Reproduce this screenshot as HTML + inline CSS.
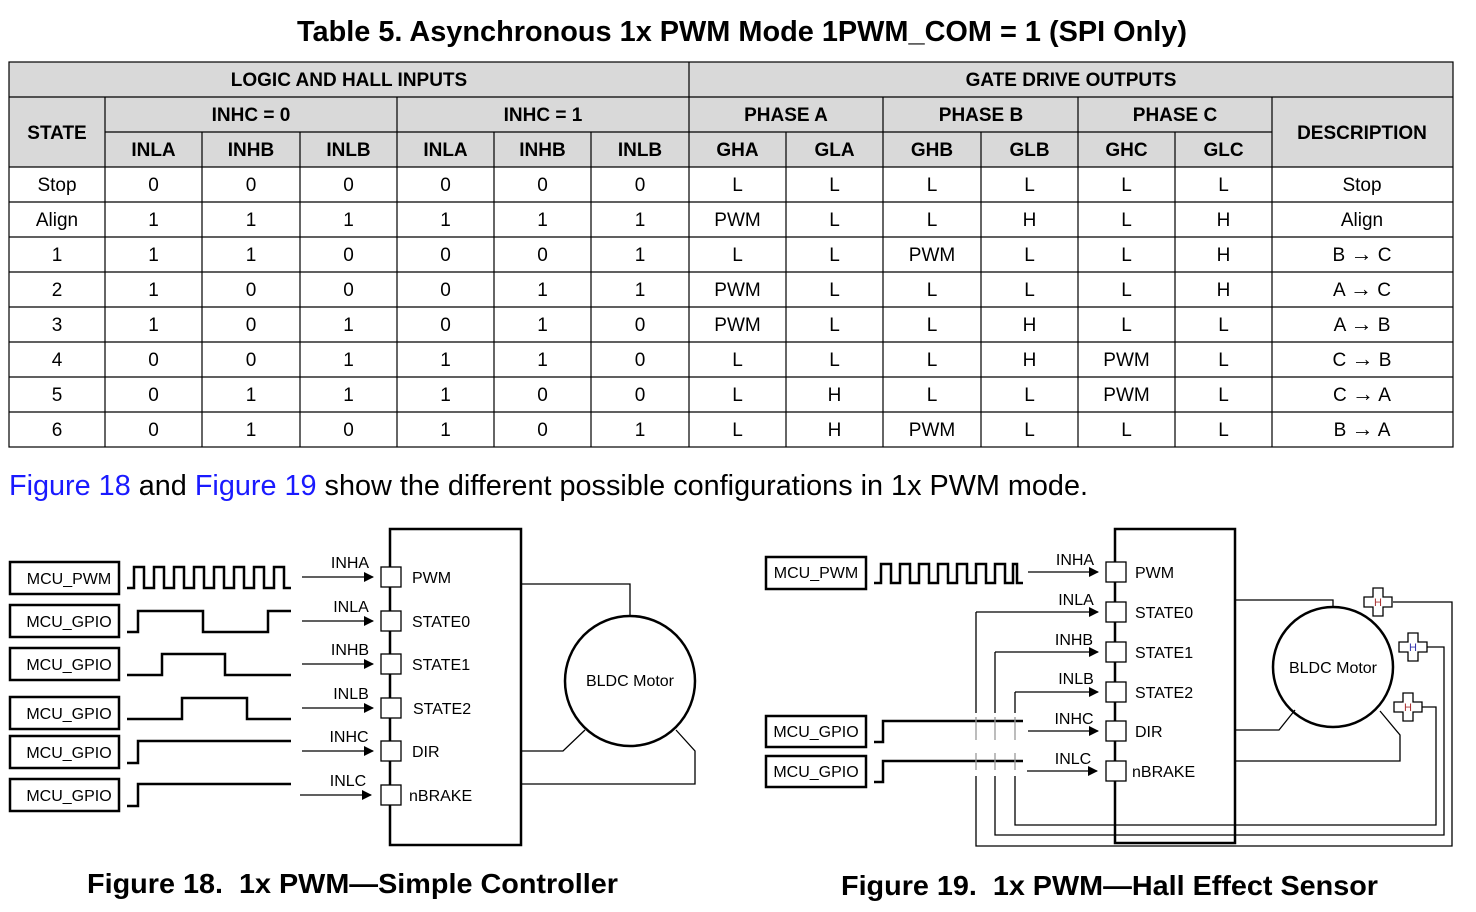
<!DOCTYPE html>
<html><head><meta charset="utf-8"><style>
html,body{margin:0;padding:0;background:#fff;}
svg{display:block;}
text{font-family:"Liberation Sans",Arial,sans-serif;fill:#000;}
.h{font-weight:bold;font-size:19px;}
.d{font-size:19px;}
.w{fill:none;stroke:#000;stroke-width:2.5;}
.l{fill:none;stroke:#000;stroke-width:1.3;}
.pin{fill:#fff;stroke:#000;stroke-width:1.3;}
.s{font-size:16px;}
.ar{font-size:22px;}
</style></head><body>
<svg width="1476" height="912" viewBox="0 0 1476 912" xmlns="http://www.w3.org/2000/svg">
<defs><marker id="a" markerWidth="10" markerHeight="10" refX="9" refY="5" orient="auto" markerUnits="userSpaceOnUse"><path d="M0,0 L10,5 L0,10 z" fill="#000"/></marker></defs>
<text x="742" y="41" text-anchor="middle" textLength="890" lengthAdjust="spacingAndGlyphs" style="font-weight:bold;font-size:29px">Table 5. Asynchronous 1x PWM Mode 1PWM_COM = 1 (SPI Only)</text>
<rect x="9" y="62" width="1444" height="105" fill="#d9d9d9"/>
<g stroke="#000" stroke-width="1.2" fill="none">
<rect x="9" y="62" width="1444" height="385"/>
<line x1="9" y1="97" x2="1453" y2="97"/>
<line x1="105" y1="132" x2="1272" y2="132"/>
<line x1="9" y1="167" x2="1453" y2="167"/>
<line x1="9" y1="202" x2="1453" y2="202"/><line x1="9" y1="237" x2="1453" y2="237"/>
<line x1="9" y1="272" x2="1453" y2="272"/><line x1="9" y1="307" x2="1453" y2="307"/>
<line x1="9" y1="342" x2="1453" y2="342"/><line x1="9" y1="377" x2="1453" y2="377"/>
<line x1="9" y1="412" x2="1453" y2="412"/>
<line x1="689" y1="62" x2="689" y2="447"/>
<line x1="105" y1="97" x2="105" y2="447"/><line x1="397" y1="97" x2="397" y2="447"/>
<line x1="883" y1="97" x2="883" y2="447"/><line x1="1078" y1="97" x2="1078" y2="447"/>
<line x1="1272" y1="97" x2="1272" y2="447"/>
<line x1="202" y1="132" x2="202" y2="447"/><line x1="300" y1="132" x2="300" y2="447"/>
<line x1="494" y1="132" x2="494" y2="447"/><line x1="591" y1="132" x2="591" y2="447"/>
<line x1="786" y1="132" x2="786" y2="447"/><line x1="981" y1="132" x2="981" y2="447"/>
<line x1="1175" y1="132" x2="1175" y2="447"/>
</g>
<g class="h" text-anchor="middle">
<text x="349" y="86">LOGIC AND HALL INPUTS</text><text x="1071" y="86">GATE DRIVE OUTPUTS</text>
<text x="57" y="139">STATE</text><text x="251" y="121">INHC = 0</text><text x="543" y="121">INHC = 1</text>
<text x="786" y="121">PHASE A</text><text x="981" y="121">PHASE B</text><text x="1175" y="121">PHASE C</text>
<text x="1362" y="139">DESCRIPTION</text>
<text x="153.5" y="156">INLA</text><text x="251" y="156">INHB</text><text x="348.5" y="156">INLB</text>
<text x="445.5" y="156">INLA</text><text x="542.5" y="156">INHB</text><text x="640" y="156">INLB</text>
<text x="737.5" y="156">GHA</text><text x="834.5" y="156">GLA</text><text x="932" y="156">GHB</text>
<text x="1029.5" y="156">GLB</text><text x="1126.5" y="156">GHC</text><text x="1223.5" y="156">GLC</text>
</g>
<g class="d" text-anchor="middle">
<g transform="translate(0,191)"><text x="57">Stop</text><text x="153.5">0</text><text x="251">0</text><text x="348.5">0</text><text x="445.5">0</text><text x="542.5">0</text><text x="640">0</text><text x="737.5">L</text><text x="834.5">L</text><text x="932">L</text><text x="1029.5">L</text><text x="1126.5">L</text><text x="1223.5">L</text><text x="1362">Stop</text></g>
<g transform="translate(0,226)"><text x="57">Align</text><text x="153.5">1</text><text x="251">1</text><text x="348.5">1</text><text x="445.5">1</text><text x="542.5">1</text><text x="640">1</text><text x="737.5">PWM</text><text x="834.5">L</text><text x="932">L</text><text x="1029.5">H</text><text x="1126.5">L</text><text x="1223.5">H</text><text x="1362">Align</text></g>
<g transform="translate(0,261)"><text x="57">1</text><text x="153.5">1</text><text x="251">1</text><text x="348.5">0</text><text x="445.5">0</text><text x="542.5">0</text><text x="640">1</text><text x="737.5">L</text><text x="834.5">L</text><text x="932">PWM</text><text x="1029.5">L</text><text x="1126.5">L</text><text x="1223.5">H</text><text x="1362">B <tspan class="ar">→</tspan> C</text></g>
<g transform="translate(0,296)"><text x="57">2</text><text x="153.5">1</text><text x="251">0</text><text x="348.5">0</text><text x="445.5">0</text><text x="542.5">1</text><text x="640">1</text><text x="737.5">PWM</text><text x="834.5">L</text><text x="932">L</text><text x="1029.5">L</text><text x="1126.5">L</text><text x="1223.5">H</text><text x="1362">A <tspan class="ar">→</tspan> C</text></g>
<g transform="translate(0,331)"><text x="57">3</text><text x="153.5">1</text><text x="251">0</text><text x="348.5">1</text><text x="445.5">0</text><text x="542.5">1</text><text x="640">0</text><text x="737.5">PWM</text><text x="834.5">L</text><text x="932">L</text><text x="1029.5">H</text><text x="1126.5">L</text><text x="1223.5">L</text><text x="1362">A <tspan class="ar">→</tspan> B</text></g>
<g transform="translate(0,366)"><text x="57">4</text><text x="153.5">0</text><text x="251">0</text><text x="348.5">1</text><text x="445.5">1</text><text x="542.5">1</text><text x="640">0</text><text x="737.5">L</text><text x="834.5">L</text><text x="932">L</text><text x="1029.5">H</text><text x="1126.5">PWM</text><text x="1223.5">L</text><text x="1362">C <tspan class="ar">→</tspan> B</text></g>
<g transform="translate(0,401)"><text x="57">5</text><text x="153.5">0</text><text x="251">1</text><text x="348.5">1</text><text x="445.5">1</text><text x="542.5">0</text><text x="640">0</text><text x="737.5">L</text><text x="834.5">H</text><text x="932">L</text><text x="1029.5">L</text><text x="1126.5">PWM</text><text x="1223.5">L</text><text x="1362">C <tspan class="ar">→</tspan> A</text></g>
<g transform="translate(0,436)"><text x="57">6</text><text x="153.5">0</text><text x="251">1</text><text x="348.5">0</text><text x="445.5">1</text><text x="542.5">0</text><text x="640">1</text><text x="737.5">L</text><text x="834.5">H</text><text x="932">PWM</text><text x="1029.5">L</text><text x="1126.5">L</text><text x="1223.5">L</text><text x="1362">B <tspan class="ar">→</tspan> A</text></g>
</g>
<text x="9" y="495" textLength="1079" lengthAdjust="spacingAndGlyphs" style="font-size:29px"><tspan style="fill:#1a1aff">Figure 18</tspan> and <tspan style="fill:#1a1aff">Figure 19</tspan> show the different possible configurations in 1x PWM mode.</text>

<!-- Figure 18 -->
<g>
<rect x="10" y="562" width="109" height="32" class="w"/><text x="69" y="584" text-anchor="middle" class="s">MCU_PWM</text>
<rect x="10" y="605" width="109" height="32" class="w"/><text x="69" y="627" text-anchor="middle" class="s">MCU_GPIO</text>
<rect x="10" y="648" width="109" height="32" class="w"/><text x="69" y="670" text-anchor="middle" class="s">MCU_GPIO</text>
<rect x="10" y="697" width="109" height="32" class="w"/><text x="69" y="719" text-anchor="middle" class="s">MCU_GPIO</text>
<rect x="10" y="736" width="109" height="32" class="w"/><text x="69" y="758" text-anchor="middle" class="s">MCU_GPIO</text>
<rect x="10" y="779" width="109" height="32" class="w"/><text x="69" y="801" text-anchor="middle" class="s">MCU_GPIO</text>
<path class="w" d="M127,588 H134 V567 H144 V588 H154 V567 H164 V588 H174 V567 H184 V588 H194 V567 H204 V588 H214 V567 H224 V588 H234 V567 H244 V588 H254 V567 H264 V588 H274 V567 H284 V588 H291"/>
<path class="w" d="M127,632 H138 V611 H203 V632 H268 V611 H291"/>
<path class="w" d="M127,675 H162 V654 H225 V675 H291"/>
<path class="w" d="M127,719 H182 V698 H247 V719 H291"/>
<path class="w" d="M127,763 H138 V741 H291"/>
<path class="w" d="M127,806 H138 V784 H291"/>
<g class="l" marker-end="url(#a)">
<line x1="302" y1="577" x2="373" y2="577"/><line x1="302" y1="621" x2="373" y2="621"/>
<line x1="302" y1="664" x2="373" y2="664"/><line x1="302" y1="708" x2="373" y2="708"/>
<line x1="302" y1="751" x2="373" y2="751"/><line x1="300" y1="795" x2="371" y2="795"/>
</g>
<g class="s" text-anchor="middle"><text x="350" y="568">INHA</text><text x="351" y="612">INLA</text><text x="350" y="655">INHB</text><text x="351" y="699">INLB</text><text x="349" y="742">INHC</text><text x="348" y="786">INLC</text></g>
<rect x="390" y="529" width="131" height="316" fill="none" stroke="#000" stroke-width="2.5"/>
<g class="pin"><rect x="381" y="567" width="20" height="20"/><rect x="381" y="611" width="20" height="20"/><rect x="381" y="654" width="20" height="20"/><rect x="381" y="698" width="20" height="20"/><rect x="381" y="741" width="20" height="20"/><rect x="381" y="785" width="20" height="20"/></g>
<g class="s"><text x="412" y="583">PWM</text><text x="412" y="627">STATE0</text><text x="412" y="670">STATE1</text><text x="413" y="714">STATE2</text><text x="412" y="757">DIR</text><text x="409" y="801">nBRAKE</text></g>
<circle cx="630" cy="681" r="65" fill="none" stroke="#000" stroke-width="2.5"/>
<text x="630" y="686" text-anchor="middle" class="s">BLDC Motor</text>
<path class="l" d="M521,584 H630 V616"/>
<path class="l" d="M521,751 H563 L585,730"/>
<path class="l" d="M521,784 H695 V751 L676,730"/>
</g>

<!-- Figure 19 -->
<g>
<rect x="766" y="557" width="100" height="32" class="w"/><text x="816" y="578" text-anchor="middle" class="s">MCU_PWM</text>
<rect x="766" y="716" width="100" height="31" class="w"/><text x="816" y="737" text-anchor="middle" class="s">MCU_GPIO</text>
<rect x="766" y="756" width="100" height="31" class="w"/><text x="816" y="777" text-anchor="middle" class="s">MCU_GPIO</text>
<path class="w" d="M874,583 H881 V564 H891 V583 H900 V564 H910 V583 H919 V564 H929 V583 H938 V564 H948 V583 H957 V564 H967 V583 H976 V564 H986 V583 H995 V564 H1005 V583 H1013 V564 H1017 V583 H1023"/>
<path class="w" d="M874,742 H883 V721 H1023"/>
<path class="w" d="M874,782 H883 V761 H1023"/>
<g class="l" marker-end="url(#a)">
<line x1="1028" y1="572" x2="1098" y2="572"/><line x1="976" y1="612" x2="1098" y2="612"/>
<line x1="995" y1="652" x2="1098" y2="652"/><line x1="1015" y1="692" x2="1098" y2="692"/>
<line x1="1028" y1="731" x2="1098" y2="731"/><line x1="1027" y1="771" x2="1097" y2="771"/>
</g>
<path class="l" d="M976,612 V713 M995,652 V713 M1015,692 V713"/>
<path d="M976,717 V740 M995,717 V740 M1015,717 V740 M976,753 V770 M995,753 V770 M1015,753 V770" stroke="#999" stroke-width="1.3" fill="none"/>
<path class="l" d="M976,776 V846 H1452 V602 H1393"/>
<path class="l" d="M995,776 V835 H1444 V647 H1426"/>
<path class="l" d="M1015,776 V825 H1436 V707 H1420"/>
<g class="s" text-anchor="middle"><text x="1075" y="565">INHA</text><text x="1076" y="605">INLA</text><text x="1074" y="645">INHB</text><text x="1076" y="684">INLB</text><text x="1074" y="724">INHC</text><text x="1073" y="764">INLC</text></g>
<rect x="1115" y="529" width="120" height="314" fill="none" stroke="#000" stroke-width="2.5"/>
<g class="pin"><rect x="1106" y="562" width="20" height="20"/><rect x="1106" y="602" width="20" height="20"/><rect x="1106" y="642" width="20" height="20"/><rect x="1106" y="682" width="20" height="20"/><rect x="1106" y="721" width="20" height="20"/><rect x="1106" y="761" width="20" height="20"/></g>
<g class="s"><text x="1135" y="578">PWM</text><text x="1135" y="618">STATE0</text><text x="1135" y="658">STATE1</text><text x="1135" y="698">STATE2</text><text x="1135" y="737">DIR</text><text x="1132" y="777">nBRAKE</text></g>
<ellipse cx="1333" cy="667" rx="60" ry="60" fill="none" stroke="#000" stroke-width="2.5"/>
<text x="1333" y="673" text-anchor="middle" class="s">BLDC Motor</text>
<path class="l" d="M1235,600 H1333 V607"/>
<path class="l" d="M1235,730 H1279 L1295,710"/>
<path class="l" d="M1235,761 H1400 V735 L1380,711"/>
<g fill="#fff" stroke="#000" stroke-width="1.3">
<path d="M1373,588 h10 v9 h9 v10 h-9 v9 h-10 v-9 h-9 v-10 h9 z"/>
<path d="M1408,633 h10 v9 h9 v10 h-9 v9 h-10 v-9 h-9 v-10 h9 z"/>
<path d="M1403,693 h10 v9 h9 v10 h-9 v9 h-10 v-9 h-9 v-10 h9 z"/>
</g>
<g font-size="11" text-anchor="middle"><text x="1378" y="606" style="fill:#a33">H</text><text x="1413" y="651" style="fill:#33a">H</text><text x="1408" y="711" style="fill:#a33">H</text></g>
</g>
<text x="87" y="893" textLength="531" lengthAdjust="spacingAndGlyphs" style="font-weight:bold;font-size:28px;white-space:pre" xml:space="preserve">Figure 18.  1x PWM—Simple Controller</text>
<text x="841" y="895" textLength="537" lengthAdjust="spacingAndGlyphs" style="font-weight:bold;font-size:28px;white-space:pre" xml:space="preserve">Figure 19.  1x PWM—Hall Effect Sensor</text>
</svg>
</body></html>
